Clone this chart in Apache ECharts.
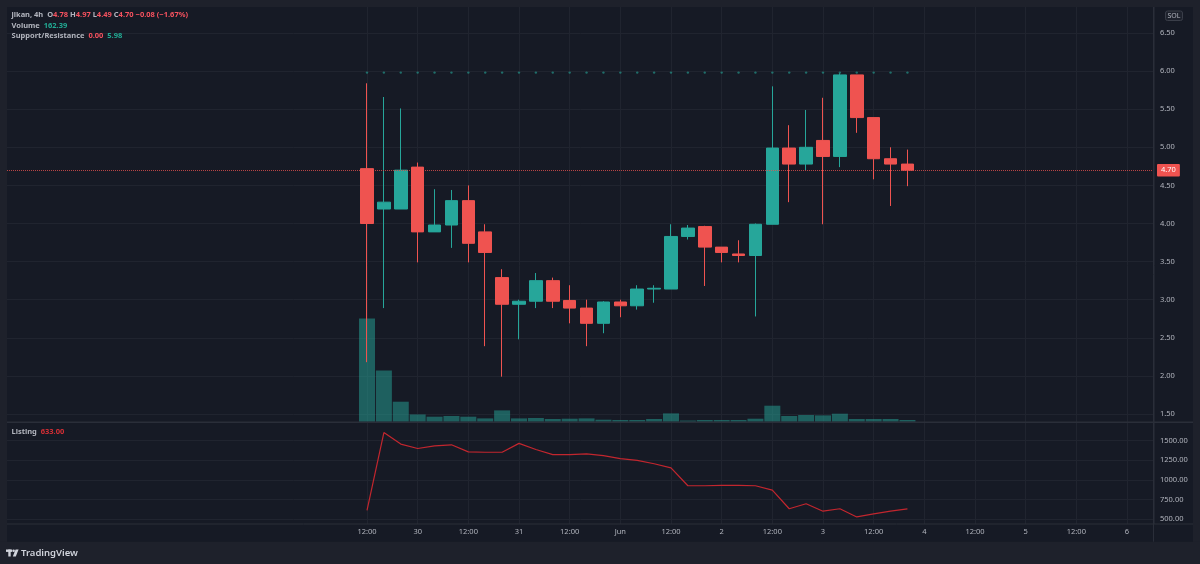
<!DOCTYPE html>
<html><head><meta charset="utf-8">
<script src="https://cdn.jsdelivr.net/npm/echarts@6/dist/echarts.min.js"></script>
<style>html,body{margin:0;padding:0;background:#1e212b;overflow:hidden}#c{width:1200px;height:564px}</style>
</head><body><div id="c"></div>
<script>
// ---- data (4h candles, first candle = 29 May 12:00) ----
const symbolName = 'jikan, 4h';
const xTickLabels = ['12:00','30','12:00','31','12:00','Jun','12:00','2','12:00','3','12:00','4','12:00','5','12:00','6'];
const opens  = [4.72,4.19,4.19,4.74,3.89,3.98,4.30,3.89,3.29,2.94,2.98,3.25,2.99,2.89,2.69,2.97,2.92,3.14,3.14,3.83,3.96,3.69,3.60,3.58,3.99,4.99,4.78,5.09,4.88,5.95,5.39,4.85,4.78];
const closes = [4.00,4.28,4.70,3.89,3.98,4.30,3.74,3.62,2.94,2.98,3.25,2.98,2.89,2.69,2.97,2.92,3.14,3.15,3.83,3.94,3.69,3.62,3.58,3.99,4.99,4.78,5.00,4.88,5.95,5.39,4.85,4.78,4.70];
const lows   = [2.18,2.89,4.19,3.49,3.89,3.68,3.49,2.39,1.99,2.48,2.89,2.89,2.69,2.39,2.56,2.77,2.87,2.96,3.14,3.79,3.18,3.49,3.49,2.78,3.99,4.28,4.70,3.99,4.74,5.19,4.58,4.23,4.49];
const highs  = [5.84,5.66,5.51,4.80,4.45,4.44,4.50,3.99,3.40,3.00,3.35,3.29,3.19,3.00,2.98,3.00,3.19,3.19,3.99,3.98,3.97,3.69,3.78,4.00,5.80,5.29,5.49,5.65,5.97,5.95,5.39,5.00,4.97];
const volumes = [9800,4870,1900,690,475,540,475,315,1075,315,350,255,285,315,190,160,160,255,790,110,160,160,160,285,1520,540,635,600,760,255,255,255,162.39];
const listing = [612,1603,1457,1401,1435,1448,1358,1353,1353,1466,1388,1323,1323,1332,1310,1272,1250,1207,1155,927,927,931,931,927,871,634,698,603,634,530,569,603,633];
const resistance = [5.98,5.98,5.98,5.98,5.98,5.98,5.98,5.98,5.98,5.98,5.98,5.98,5.98,5.98,5.98,5.98,5.98,5.98,5.98,5.98,5.98,5.98,5.98,5.98,5.98,5.98,5.98,5.98,5.98,5.98,5.98,5.98,5.98];
const support = [0,0,0,0,0,0,0,0,0,0,0,0,0,0,0,0,0,0,0,0,0,0,0,0,0,0,0,0,0,0,0,0,0];
const priceTicks = {min:1.5, max:6.5, step:0.5};
const listingTicks = {min:500, max:1500, step:250};
const volumeMax = 39400;

// ---- layout ----
const FONT = "'Noto Sans', sans-serif";
const UP = '#26a69a', DOWN = '#ef5350';
const TXT = '#b2b5be', GRIDC = '#20242f', SEP = '#2a2e39';
const PANEL = '#161a25', OUTER = '#1e212b';
const paneL = 7, paneR = 1154, firstX = 367, slot = 760/45;
const xMinFull = -(firstX - paneL)/slot, xMax = (paneR - firstX)/slot;
const mainTop = 7, mainBot = 421.7, pTop = 33, pBot = 414, lTop = 440.7, lBot = 519.3, stripTop = 524, stripBot = 541.7;

const n = closes.length;
const last = n - 1;
const chg = closes[last] - closes[last-1];
const pct = chg / closes[last-1] * 100;
const f2 = v => v.toFixed(2);

const chart = echarts.init(document.getElementById('c'), null, {renderer:'canvas'});
const hiddenX = (gi) => ({gridIndex:gi, type:'value', min:xMinFull, max:xMax, show:false});
const rich = {
  g:{color:TXT, fontSize:7.5, fontFamily:FONT},
  r:{color:'#f7525f', fontSize:7.5, fontFamily:FONT},
  t:{color:'#22ab94', fontSize:7.5, fontFamily:FONT},
  lr:{color:'#d62f35', fontSize:7.5, fontFamily:FONT, fontWeight:'bold'}
};
const opt = {
  backgroundColor: PANEL,
  animation:false,
  textStyle:{fontFamily:FONT},
  title:[
    {left:11.5, top:11, padding:0, text:`{g|${symbolName}  O}{r|${f2(opens[last])}}{g| H}{r|${f2(highs[last])}}{g| L}{r|${f2(lows[last])}}{g| C}{r|${f2(closes[last])}}{r| ${chg<0?'\u2212':'+'}${f2(Math.abs(chg))} (${pct<0?'\u2212':'+'}${f2(Math.abs(pct))}%)}`, textStyle:{rich}},
    {left:11.5, top:21.6, padding:0, text:`{g|Volume  }{t|${f2(volumes[last])}}`, textStyle:{rich}},
    {left:11.5, top:32, padding:0, text:`{g|Support/Resistance  }{r|${f2(support[last])}}{g|  }{t|${f2(resistance[last])}}`, textStyle:{rich}},
    {left:11.5, top:428, padding:0, text:`{g|Listing  }{lr|${f2(listing[last])}}`, textStyle:{rich}}
  ],
  grid:[
    {left:paneL, top:mainTop, width:paneR-paneL, height:mainBot-mainTop},
    {left:firstX, top:mainTop, width:paneR-firstX, height:stripTop-mainTop},
    {left:paneL, top:pTop, width:paneR-paneL, height:pBot-pTop},
    {left:paneL, top:lTop, width:paneR-paneL, height:lBot-lTop}
  ],
  xAxis:[
    hiddenX(0),
    {gridIndex:1, type:'value', min:0, max:xMax, interval:3,
      axisLine:{show:false}, axisTick:{show:false},
      splitLine:{show:true, lineStyle:{color:GRIDC, width:1}},
      axisLabel:{color:TXT, fontSize:7.5, fontFamily:FONT, margin:4, showMaxLabel:false,
        formatter:v=>{const j=Math.round(v/3); return Math.abs(v-j*3)<1e-6 && j>=0 && j<xTickLabels.length ? xTickLabels[j] : '';}}},
    hiddenX(2),
    hiddenX(3)
  ],
  yAxis:[
    {gridIndex:0, type:'value', min:0, max:volumeMax, show:false},
    {gridIndex:1, type:'value', min:0, max:1, show:false},
    {gridIndex:2, type:'value', position:'right', min:priceTicks.min, max:priceTicks.max, interval:priceTicks.step,
      axisLine:{show:false}, axisTick:{show:false},
      splitLine:{show:true, lineStyle:{color:GRIDC, width:1}},
      axisLabel:{color:TXT, fontSize:7.5, fontFamily:FONT, margin:6, formatter:v=>v.toFixed(2)}},
    {gridIndex:3, type:'value', position:'right', min:listingTicks.min, max:listingTicks.max, interval:listingTicks.step,
      axisLine:{show:false}, axisTick:{show:false},
      splitLine:{show:true, lineStyle:{color:GRIDC, width:1}},
      axisLabel:{color:TXT, fontSize:7.5, fontFamily:FONT, margin:6, formatter:v=>v.toFixed(2)}}
  ],
  series:[
    {type:'bar', name:'Volume', xAxisIndex:0, yAxisIndex:0, barWidth:16,
      data:volumes.map((v,i)=>[i,v]), itemStyle:{color:'rgba(38,166,154,0.5)'}, silent:true},
    {type:'candlestick', name:'Price', xAxisIndex:2, yAxisIndex:2, barWidth:13, clip:false,
      encode:{x:0, y:[1,2,3,4]},
      data:opens.map((o,i)=>[i,o,closes[i],lows[i],highs[i]]),
      itemStyle:{color:UP, color0:DOWN, borderColor:UP, borderColor0:DOWN, borderWidth:1},
      markLine:{silent:true, symbol:['none','none'],
        lineStyle:{color:'rgba(239,83,80,0.75)', type:'dotted', width:1},
        label:{position:'end', distance:3, formatter:p=>p.value.toFixed(2), color:'#fff', backgroundColor:DOWN,
          padding:[2.5,4,2,4], fontSize:7.5, fontFamily:FONT, borderRadius:1},
        data:[{yAxis:closes[last]}]}},
    {type:'scatter', name:'Resistance', xAxisIndex:2, yAxisIndex:2, symbolSize:2.4,
      data:resistance.map((v,i)=>[i,v]), itemStyle:{color:'rgba(38,166,154,0.75)'}, silent:true},
    {type:'line', name:'Listing', xAxisIndex:3, yAxisIndex:3, clip:false, symbol:'none',
      data:listing.map((v,i)=>[i,v]), lineStyle:{color:'#c2262e', width:1.2}, silent:true}
  ],
  graphic:[
    {type:'rect', z:100, silent:true, shape:{x:0,y:0,width:1200,height:mainTop}, style:{fill:OUTER}},
    {type:'rect', z:100, silent:true, shape:{x:0,y:0,width:paneL,height:564}, style:{fill:OUTER}},
    {type:'rect', z:100, silent:true, shape:{x:1193,y:0,width:7,height:564}, style:{fill:OUTER}},
    {type:'rect', z:100, silent:true, shape:{x:0,y:stripBot,width:1200,height:564-stripBot}, style:{fill:OUTER}},
    {type:'line', z:101, silent:true, shape:{x1:paneR-0.5,y1:mainTop,x2:paneR-0.5,y2:stripBot}, style:{stroke:SEP, lineWidth:1}},
    {type:'line', z:101, silent:true, shape:{x1:paneL,y1:mainBot+0.5,x2:1193,y2:mainBot+0.5}, style:{stroke:SEP, lineWidth:1.5}},
    {type:'line', z:101, silent:true, shape:{x1:paneL,y1:stripTop,x2:1193,y2:stripTop}, style:{stroke:SEP, lineWidth:1}},
    {type:'rect', z:101, silent:true, shape:{x:1165.5,y:11,width:17,height:9.5,r:2}, style:{fill:'#1e222d', stroke:'#3a3e49', lineWidth:1}},
    {type:'text', z:102, silent:true, style:{x:1174,y:15.8,text:'SOL',fill:TXT,font:"7px 'Noto Sans'",textAlign:'center',textVerticalAlign:'middle'}},
    // TradingView mark + wordmark
    {type:'rect', z:102, silent:true, shape:{x:6,y:549.5,width:6,height:2.4}, style:{fill:'#d1d4dc'}},
    {type:'rect', z:102, silent:true, shape:{x:8.3,y:549.5,width:2.4,height:7}, style:{fill:'#d1d4dc'}},
    {type:'circle', z:102, silent:true, shape:{cx:13.6,cy:550.8,r:1.3}, style:{fill:'#d1d4dc'}},
    {type:'polygon', z:102, silent:true, shape:{points:[[15.6,549.5],[18.6,549.5],[15.8,556.5],[12.8,556.5]]}, style:{fill:'#d1d4dc'}},
    {type:'text', z:102, silent:true, style:{x:21,y:553.3,text:'TradingView',fill:'#d1d4dc',font:"600 9.5px 'Noto Sans'",textAlign:'left',textVerticalAlign:'middle'}}
  ]
};
chart.setOption(opt);
</script></body></html>
